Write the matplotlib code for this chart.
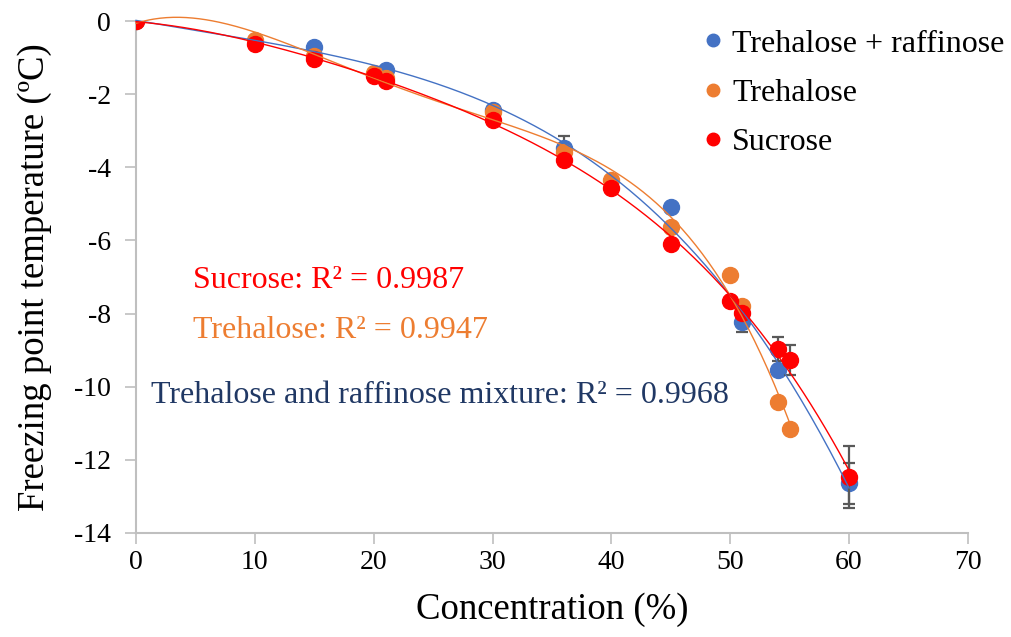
import numpy as np
import matplotlib
matplotlib.use("Agg")
import matplotlib.pyplot as plt
from matplotlib.lines import Line2D

plt.rcParams['font.family'] = ['Liberation Serif', 'DejaVu Serif']
plt.rcParams['axes.unicode_minus'] = False

# freezing point data
mix_x = [0, 15, 21, 30, 36, 45, 51, 54, 60]
mix_y = [0, -0.72, -1.35, -2.42, -3.47, -5.08, -8.22, -9.54, -12.64]
mix_err = [0, 0, 0, 0, 0.33, 0, 0.28, 0, 0.56]

tre_x = [0, 10, 15, 20, 21, 30, 36, 40, 45, 50, 51, 54, 55]
tre_y = [0, -0.52, -0.95, -1.42, -1.55, -2.5, -3.58, -4.35, -5.63, -6.95, -7.78, -10.42, -11.15]

suc_x = [0, 10, 15, 20, 21, 30, 36, 40, 45, 50, 51, 54, 55, 60]
suc_y = [0, -0.62, -1.05, -1.5, -1.63, -2.7, -3.8, -4.57, -6.1, -7.65, -7.98, -8.98, -9.27, -12.46]
suc_err = [0, 0, 0, 0, 0, 0, 0, 0, 0, 0, 0, 0.33, 0.41, 0.85]

labels = ['Trehalose + raffinose', 'Trehalose', 'Sucrose']
r2_texts = ['Sucrose: R\u00b2 = 0.9987', 'Trehalose: R\u00b2 = 0.9947',
            'Trehalose and raffinose mixture: R\u00b2 = 0.9968']

blue = '#4472C4'
orange = '#ED7D31'
red = '#FF0000'
grey = '#BFBFBF'


def trend(x, y, order=4):
    # Excel-style polynomial trendline over the data range
    c = np.polyfit(x, y, order)
    xx = np.linspace(min(x), max(x), 300)
    return xx, np.polyval(c, xx)


fig = plt.figure(figsize=(10.12, 6.37), dpi=100)
ax = fig.add_axes([0.1344, 0.1633, 0.822, 0.8037])

ms = 11.5
eb = dict(ecolor='#595959', elinewidth=1.6, capsize=4, capthick=1.6)
ax.errorbar(mix_x, mix_y, yerr=mix_err, fmt='o', color=blue, ms=ms, zorder=3, **eb)
ax.plot(tre_x, tre_y, 'o', color=orange, ms=ms, zorder=4)
ax.errorbar(suc_x, suc_y, yerr=suc_err, fmt='o', color=red, ms=ms, zorder=5, **eb)

xx, yy = trend(mix_x, mix_y)
ax.plot(xx, yy, color=blue, lw=1.0, zorder=6, clip_on=False)
xx, yy = trend(tre_x, tre_y)
ax.plot(xx, yy, color=orange, lw=1.0, zorder=6, clip_on=False)
xx, yy = trend(suc_x, suc_y)
ax.plot(xx, yy, color=red, lw=1.0, zorder=6, clip_on=False)

ax.set_xlim(0, 70)
ax.set_ylim(-14, 0)
ax.set_xticks(range(0, 71, 10))
ax.set_yticks(range(-14, 1, 2))
ax.tick_params(labelsize=20, color=grey, length=8, width=1.2)
ax.tick_params(axis='x', pad=4)
ax.tick_params(axis='y', pad=10)
for s in ['top', 'right']:
    ax.spines[s].set_visible(False)
for s in ['left', 'bottom']:
    ax.spines[s].set_color(grey)
    ax.spines[s].set_linewidth(1.5)

ax.set_xlabel('Concentration (%)', fontsize=26.5, labelpad=13)
ax.set_ylabel('Freezing point temperature (\u00baC)', fontsize=26.5, labelpad=16)

ax.text(4.8, -7.1, r2_texts[0], color=red, fontsize=23, va='center')
ax.text(4.8, -8.45, r2_texts[1], color=orange, fontsize=23, va='center')
ax.text(1.3, -10.25, r2_texts[2], color='#203864', fontsize=23, va='center')

handles = [Line2D([], [], ls='none', marker='o', color=c, ms=9)
           for c in (blue, orange, red)]
ax.legend(handles, labels, loc='upper left', bbox_to_anchor=(0.64, 1.04),
          frameon=False, fontsize=23, handletextpad=0.1,
          handlelength=1.0, labelspacing=0.62)

fig.savefig('out.png', dpi=100)
